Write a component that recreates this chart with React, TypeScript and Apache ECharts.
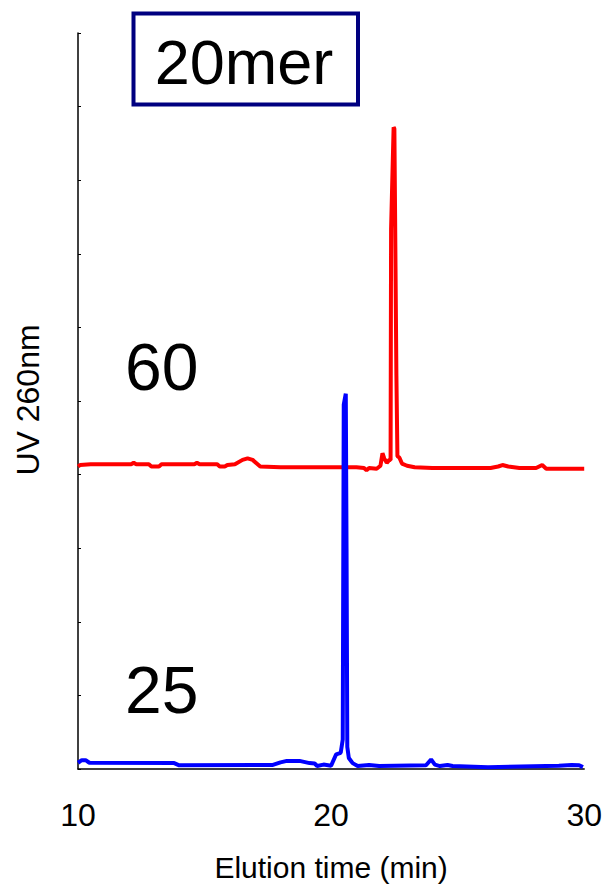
import React, { useEffect, useRef } from "react";
import * as echarts from "echarts";

// Elution time (min) and UV 260nm signal (arbitrary units, 0-100 axis)
const redTime = [
  10.0, 10.08, 10.5, 12.1, 12.2, 12.3, 12.8, 12.9, 13.2, 13.3, 14.6, 14.7, 14.8, 15.5, 15.6, 15.8,
  15.9, 16.2, 16.5, 16.7, 16.9, 17.2, 18.0, 19.0, 20.0, 21.0, 21.3, 21.4, 21.5, 21.8, 21.95, 22.03,
  22.1, 22.2, 22.3, 22.35, 22.37, 22.47, 22.5, 22.58, 22.62, 22.7, 22.8, 23.0, 23.3, 24.0, 26.3,
  26.6, 26.77, 27.0, 27.44, 28.1, 28.34, 28.5, 29.0, 30.0,
];
const redSignal = [
  41.1, 41.3, 41.4, 41.4, 41.6, 41.4, 41.4, 41.1, 41.1, 41.4, 41.4, 41.6, 41.4, 41.4, 41.1, 41.1,
  41.3, 41.4, 42.0, 42.2, 42.0, 41.1, 41.0, 41.0, 41.0, 41.0, 40.9, 40.6, 40.9, 40.8, 41.2, 42.9,
  42.2, 41.6, 42.0, 42.0, 73.4, 87.2, 87.0, 53.5, 42.5, 42.3, 41.5, 41.2, 41.0, 40.9, 40.9,
  41.1, 41.3, 41.1, 40.9, 40.9, 41.3, 40.8, 40.8, 40.8,
];

const blueTime = [
  10.0, 10.15, 10.3, 10.45, 13.8, 14.0, 17.7, 18.0, 18.25, 18.75, 19.15, 19.35, 19.45, 19.7, 20.0,
  20.2, 20.38, 20.46, 20.5, 20.58, 20.61, 20.64, 20.7, 20.85, 21.05, 21.5, 21.9, 23.75, 23.95, 24.1,
  24.3, 24.6, 24.8, 26.2, 29.0, 29.5, 29.8, 29.95,
];
const blueSignal = [
  0.85, 1.2, 1.2, 0.85, 0.8, 0.5, 0.55, 0.9, 1.1, 1.1, 0.8, 0.75, 0.4, 0.6, 0.45,
  2.0, 2.2, 4.0, 49.5, 51.0, 30.0, 3.0, 1.5, 0.8, 0.4, 0.55, 0.4, 0.5, 1.3, 0.6,
  0.4, 0.55, 0.4, 0.25, 0.45, 0.55, 0.5, 0.25,
];

const xTicks = [10, 20, 30];
const titleText = "20mer";
const traceLabels = ["60", "25"];
const xName = "Elution time (min)";
const yName = "UV 260nm";

const FONT = "'Liberation Sans', Arial, sans-serif";

export default function App() {
  const ref = useRef<HTMLDivElement>(null);
  useEffect(() => {
    if (!ref.current) return;
    const chart = echarts.init(ref.current, undefined, { renderer: "svg" });
    const red = redTime.map((t, i) => [t, redSignal[i]]);
    const blue = blueTime.map((t, i) => [t, blueSignal[i]]);
    chart.setOption({
      animation: false,
      backgroundColor: "#ffffff",
      grid: { left: 78, right: 20, top: 33, bottom: 114 },
      xAxis: {
        type: "value",
        min: xTicks[0],
        max: xTicks[xTicks.length - 1],
        interval: 10,
        name: xName,
        nameLocation: "middle",
        nameGap: 83,
        nameTextStyle: { fontSize: 30, color: "#000", fontFamily: FONT },
        axisLine: { show: true, lineStyle: { color: "#000", width: 1.5 } },
        axisTick: { show: false },
        splitLine: { show: false },
        axisLabel: { fontSize: 32, color: "#000", fontFamily: FONT, margin: 30 },
      },
      yAxis: {
        type: "value",
        min: 0,
        max: 100,
        interval: 10,
        axisLine: { show: true, lineStyle: { color: "#000", width: 1.5 } },
        axisTick: { show: true, inside: true, length: 3, lineStyle: { color: "#000" } },
        axisLabel: { show: false },
        splitLine: { show: false },
      },
      graphic: [
        {
          type: "rect",
          shape: { x: 133.5, y: 13.5, width: 224.5, height: 91 },
          style: { fill: "#fff", stroke: "#000080", lineWidth: 4 },
          z: 10,
        },
        {
          type: "text",
          x: 244,
          y: 62,
          style: {
            text: titleText,
            fontSize: 63,
            fontFamily: FONT,
            fill: "#000",
            align: "center",
            verticalAlign: "middle",
          },
          z: 11,
        },
        {
          type: "text",
          x: 125,
          y: 367,
          style: {
            text: traceLabels[0],
            fontSize: 66,
            fontFamily: FONT,
            fill: "#000",
            align: "left",
            verticalAlign: "middle",
          },
        },
        {
          type: "text",
          x: 125,
          y: 690,
          style: {
            text: traceLabels[1],
            fontSize: 66,
            fontFamily: FONT,
            fill: "#000",
            align: "left",
            verticalAlign: "middle",
          },
        },
        {
          type: "text",
          x: 28,
          y: 400,
          rotation: Math.PI / 2,
          style: {
            text: yName,
            fontSize: 32,
            fontFamily: FONT,
            fill: "#000",
            align: "center",
            verticalAlign: "middle",
          },
        },
      ],
      series: [
        {
          type: "line",
          data: red,
          showSymbol: false,
          lineStyle: { color: "#ff0000", width: 4 },
          itemStyle: { color: "#ff0000" },
        },
        {
          type: "line",
          data: blue,
          showSymbol: false,
          lineStyle: { color: "#0000ff", width: 4 },
          itemStyle: { color: "#0000ff" },
          z: 3,
        },
      ],
    });
    return () => chart.dispose();
  }, []);
  return (
    <div
      ref={ref}
      style={{ position: "fixed", left: 0, top: 0, width: 605, height: 887 }}
    />
  );
}
